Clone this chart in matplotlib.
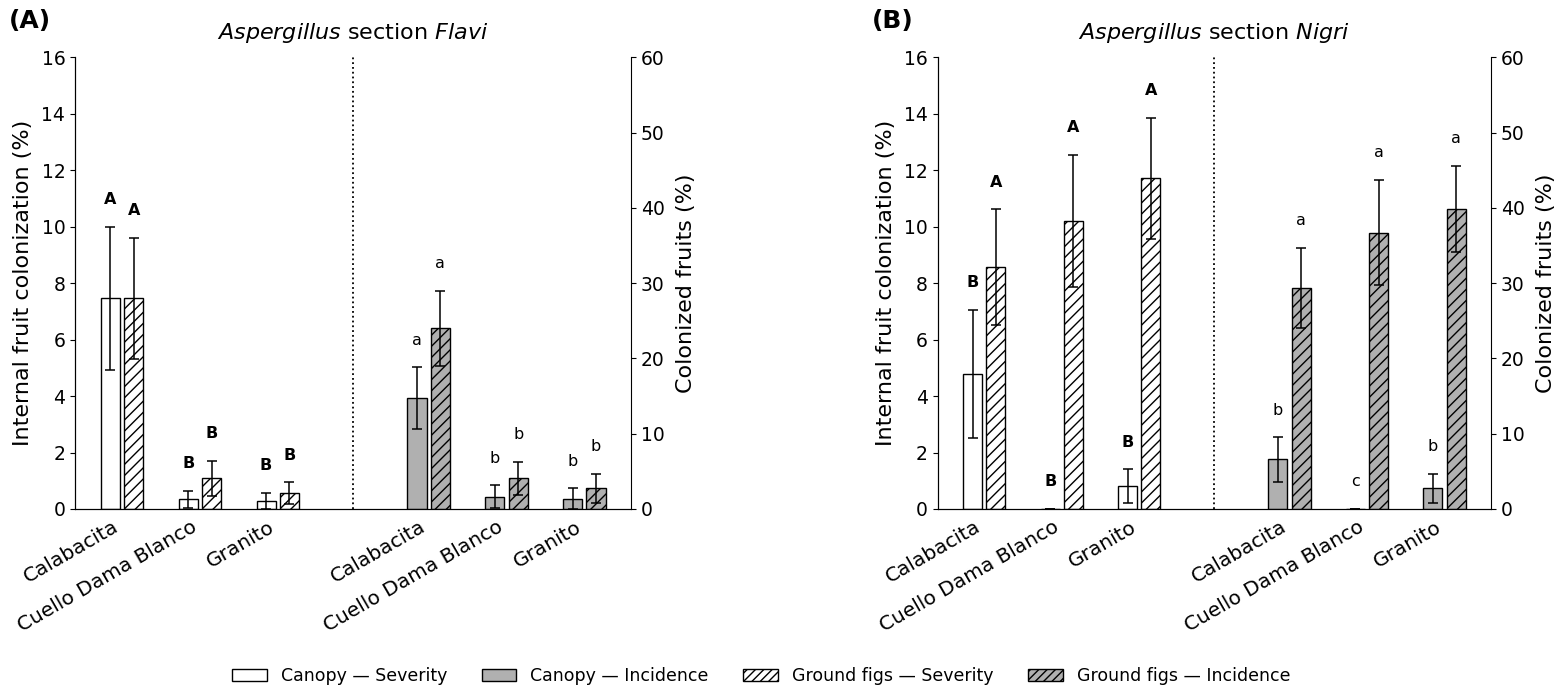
import numpy as np
import matplotlib
matplotlib.use("Agg")
import matplotlib.pyplot as plt
from matplotlib.patches import Patch

# ---------------- data ----------------
cultivars = ["Calabacita", "Cuello Dama Blanco", "Granito"]

# Aspergillus section Flavi
flavi_sev_canopy = [7.46, 0.34, 0.29]
flavi_sev_canopy_err = [2.54, 0.31, 0.28]
flavi_sev_ground = [7.46, 1.09, 0.56]
flavi_sev_ground_err = [2.15, 0.62, 0.38]
flavi_inc_canopy = [14.7, 1.63, 1.37]
flavi_inc_canopy_err = [4.1, 1.5, 1.38]
flavi_inc_ground = [24.0, 4.08, 2.75]
flavi_inc_ground_err = [5.0, 2.16, 1.9]
flavi_let_sev_canopy = ["A", "B", "B"]
flavi_let_sev_ground = ["A", "B", "B"]
flavi_let_inc_canopy = ["a", "b", "b"]
flavi_let_inc_ground = ["a", "b", "b"]

# Aspergillus section Nigri
nigri_sev_canopy = [4.78, 0.0, 0.81]
nigri_sev_canopy_err = [2.27, 0.0, 0.60]
nigri_sev_ground = [8.56, 10.2, 11.71]
nigri_sev_ground_err = [2.05, 2.35, 2.15]
nigri_inc_canopy = [6.6, 0.0, 2.75]
nigri_inc_canopy_err = [2.95, 0.0, 1.95]
nigri_inc_ground = [29.4, 36.7, 39.9]
nigri_inc_ground_err = [5.3, 7.0, 5.7]
nigri_let_sev_canopy = ["B", "B", "B"]
nigri_let_sev_ground = ["A", "A", "A"]
nigri_let_inc_canopy = ["b", "c", "b"]
nigri_let_inc_ground = ["a", "a", "a"]

panels = [
    dict(tag="(A)", genus="Aspergillus", section="Flavi",
         sc=flavi_sev_canopy, sce=flavi_sev_canopy_err,
         sg=flavi_sev_ground, sge=flavi_sev_ground_err,
         ic=flavi_inc_canopy, ice=flavi_inc_canopy_err,
         ig=flavi_inc_ground, ige=flavi_inc_ground_err,
         lsc=flavi_let_sev_canopy, lsg=flavi_let_sev_ground,
         lic=flavi_let_inc_canopy, lig=flavi_let_inc_ground),
    dict(tag="(B)", genus="Aspergillus", section="Nigri",
         sc=nigri_sev_canopy, sce=nigri_sev_canopy_err,
         sg=nigri_sev_ground, sge=nigri_sev_ground_err,
         ic=nigri_inc_canopy, ice=nigri_inc_canopy_err,
         ig=nigri_inc_ground, ige=nigri_inc_ground_err,
         lsc=nigri_let_sev_canopy, lsg=nigri_let_sev_ground,
         lic=nigri_let_inc_canopy, lig=nigri_let_inc_ground),
]

# ---------------- style ----------------
GREY = "#b0b0b0"
W = 0.245
OFF = 0.15
XTICK_FS = 14.5
YTICK_FS = 13.5
LAB_FS = 16
LET_FS = 11.5
LET_OFF = 19.5  # points above error bar top

plt.rcParams["hatch.linewidth"] = 1.0

fig = plt.figure(figsize=(15.66, 6.95), dpi=100)

ax_rects = [
    [75 / 1566, 1 - 509 / 695, (631 - 75) / 1566, (509 - 57.3) / 695],
    [937.5 / 1566, 1 - 509 / 695, (1491 - 937.5) / 1566, (509 - 57.3) / 695],
]

x_sev = np.arange(3, dtype=float)
x_inc = x_sev + 3.94
divider = 2.97


def draw_group(axis, xc, vals, errs, letters, shift, color, hatch, bold):
    xs = xc + shift
    axis.bar(xs, vals, width=W, color=color, edgecolor="black",
             linewidth=1.0, hatch=hatch, zorder=2)
    axis.errorbar(xs, vals, yerr=errs, fmt="none", ecolor="black",
                  elinewidth=1.1, capsize=3.5, capthick=1.1, zorder=3)
    for x, v, e, t in zip(xs, vals, errs, letters):
        axis.annotate(t, (x, v + e), xytext=(0, LET_OFF),
                      textcoords="offset points", ha="center", va="center",
                      fontsize=LET_FS, fontweight="bold" if bold else "normal")


for rect, p in zip(ax_rects, panels):
    ax = fig.add_axes(rect)
    ax2 = ax.twinx()

    draw_group(ax, x_sev, p["sc"], p["sce"], p["lsc"], -OFF, "white", None, True)
    draw_group(ax, x_sev, p["sg"], p["sge"], p["lsg"], +OFF, "white", "///", True)
    draw_group(ax2, x_inc, p["ic"], p["ice"], p["lic"], -OFF, GREY, None, False)
    draw_group(ax2, x_inc, p["ig"], p["ige"], p["lig"], +OFF, GREY, "///", False)

    ax.axvline(divider, color="black", linestyle=":", linewidth=1.3, zorder=1)

    ax.set_xlim(-0.605, 6.54)
    ax.set_ylim(0, 16)
    ax.set_yticks(np.arange(0, 17, 2))
    ax2.set_ylim(0, 60)
    ax2.set_yticks(np.arange(0, 61, 10))

    ax.set_xticks(np.concatenate([x_sev, x_inc]))
    ax.set_xticklabels(cultivars + cultivars, rotation=30, ha="right",
                       fontsize=XTICK_FS)
    ax.tick_params(axis="x", length=0, pad=6)
    ax.tick_params(axis="y", labelsize=YTICK_FS)
    ax2.tick_params(axis="y", labelsize=YTICK_FS)

    for a in (ax, ax2):
        a.spines["top"].set_visible(False)
    ax.spines["right"].set_visible(False)

    ax.set_ylabel("Internal fruit colonization (%)", fontsize=LAB_FS, labelpad=6)
    ax2.set_ylabel("Colonized fruits (%)", fontsize=LAB_FS, labelpad=8)

    ax.set_title(r"$\it{" + p["genus"] + r"}$ section $\it{" + p["section"] + r"}$",
                 fontsize=16, pad=13)

    fig.text(rect[0] - 0.042, 0.97, p["tag"], fontsize=18, fontweight="bold",
             ha="left", va="center")

handles = [
    Patch(facecolor="white", edgecolor="black", label="Canopy — Severity"),
    Patch(facecolor=GREY, edgecolor="black", label="Canopy — Incidence"),
    Patch(facecolor="white", edgecolor="black", hatch="////", label="Ground figs — Severity"),
    Patch(facecolor=GREY, edgecolor="black", hatch="////", label="Ground figs — Incidence"),
]
fig.legend(handles=handles, loc="center", bbox_to_anchor=(0.486, 0.027),
           ncol=4, frameon=False, fontsize=12.5)

fig.savefig("out.png", dpi=100)
